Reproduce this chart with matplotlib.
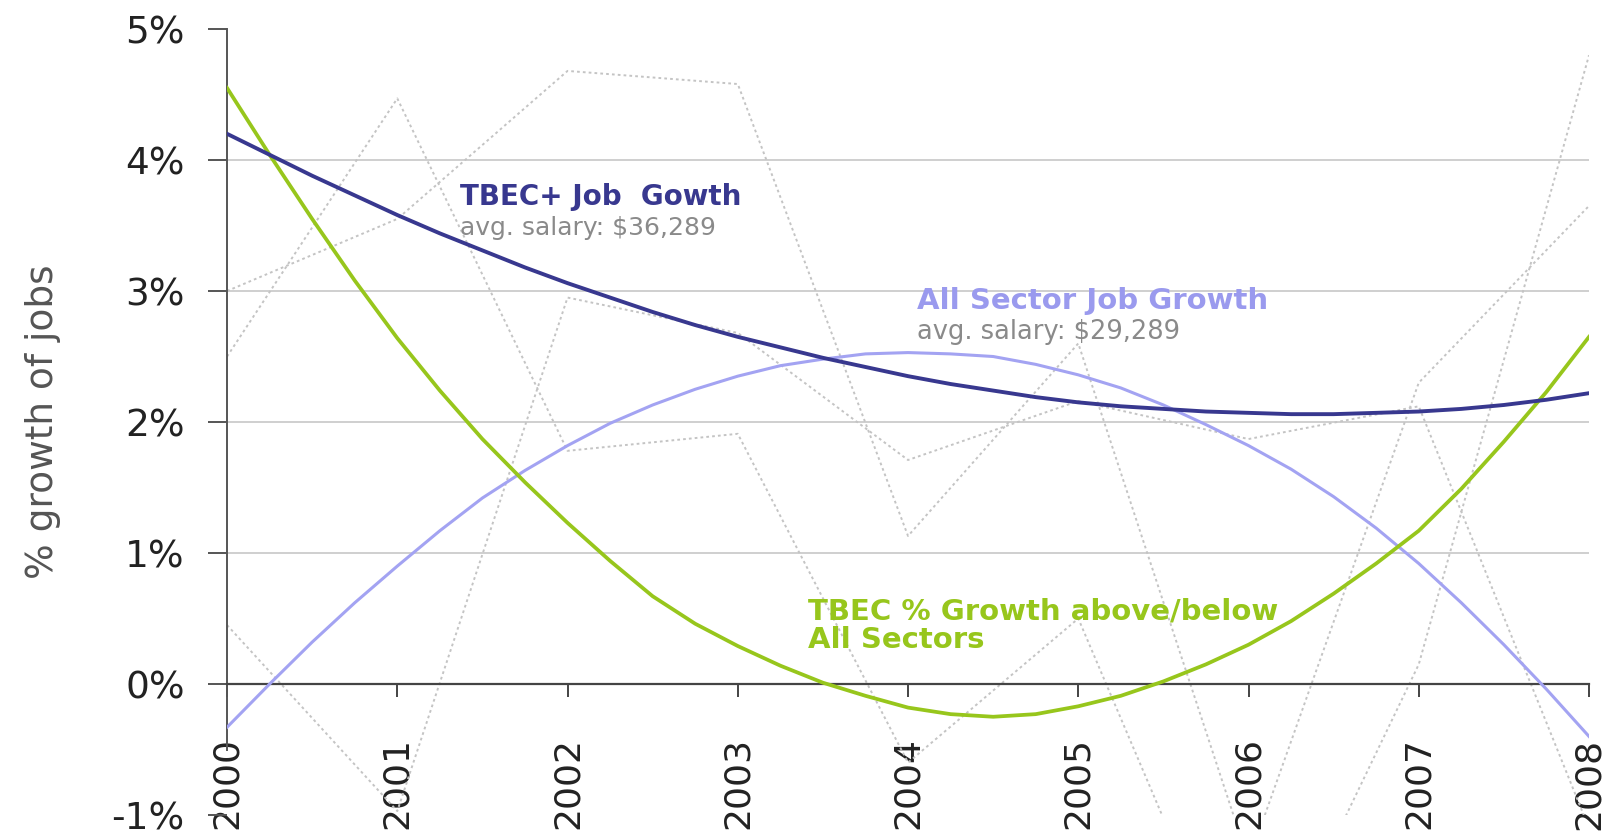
import matplotlib
matplotlib.use('Agg')
import matplotlib.pyplot as plt
from matplotlib import font_manager

plt.rcParams['font.family'] = ['DejaVu Sans']
plt.rcParams['axes.unicode_minus'] = False

# 数据：原始年度值（灰色点线）
years = [2000, 2001, 2002, 2003, 2004, 2005, 2006, 2007, 2008]
tbec_raw = [3.0, 3.55, 4.68, 4.58, 1.13, 2.6, -1.35, 2.3, 3.65]
all_raw = [0.45, -0.97, 2.95, 2.68, 1.71, 2.16, 1.87, 2.12, -1.1]
diff_raw = [2.5, 4.47, 1.78, 1.91, -0.6, 0.5, -2.55, 0.15, 4.8]

# 数据：趋势线（每季度读数）
quarter_years = [2000 + 0.25 * i for i in range(33)]
tbec_trend = [4.20, 4.04, 3.88, 3.73, 3.58, 3.44, 3.31, 3.18, 3.06, 2.95, 2.84,
              2.74, 2.65, 2.57, 2.49, 2.42, 2.35, 2.29, 2.24, 2.19, 2.15, 2.12,
              2.10, 2.08, 2.07, 2.06, 2.06, 2.07, 2.08, 2.10, 2.13, 2.17, 2.22]
all_trend = [-0.33, 0.00, 0.32, 0.62, 0.90, 1.17, 1.42, 1.63, 1.82, 1.99, 2.13,
             2.25, 2.35, 2.43, 2.48, 2.52, 2.53, 2.52, 2.50, 2.44, 2.36, 2.26,
             2.13, 1.98, 1.82, 1.64, 1.43, 1.19, 0.92, 0.62, 0.30, -0.04, -0.40]
diff_trend = [4.55, 4.04, 3.55, 3.08, 2.64, 2.24, 1.87, 1.54, 1.23, 0.94, 0.67,
              0.46, 0.29, 0.14, 0.01, -0.09, -0.18, -0.23, -0.25, -0.23, -0.17,
              -0.09, 0.02, 0.15, 0.30, 0.48, 0.69, 0.92, 1.17, 1.49, 1.85, 2.23,
              2.65]

y_ticks = [-1, 0, 1, 2, 3, 4, 5]
y_tick_labels = ['-1%', '0%', '1%', '2%', '3%', '4%', '5%']
grid_levels = [1, 2, 3, 4]

navy = '#38388f'
light_blue = '#a3a3f2'
green = '#97c61c'
dot_gray = '#c4c4c4'

# x轴刻度用窄体字（如有）
try:
    font_manager.findfont('Liberation Sans Narrow', fallback_to_default=False)
    xtick_family = ['Liberation Sans Narrow', 'DejaVu Sans']
    xtick_size = 31
except Exception:
    xtick_family = ['DejaVu Sans']
    xtick_size = 26

fig = plt.figure(figsize=(16.16, 8.36), dpi=100)
ax = fig.add_axes([0.1405, 0.0251, 0.8428, 0.9402])

# 网格线
for lvl in grid_levels:
    ax.axhline(lvl, color='#cfcfcf', linewidth=1.4, zorder=1)

# 原始数据点线
for series in (tbec_raw, all_raw, diff_raw):
    ax.plot(years, series, color=dot_gray, linestyle=(0, (1.4, 1.6)),
            linewidth=1.4, zorder=2)

# 趋势线
ax.plot(quarter_years, tbec_trend, color=navy, linewidth=2.8, zorder=4,
        solid_joinstyle='round')
ax.plot(quarter_years, all_trend, color=light_blue, linewidth=2.2, zorder=3,
        solid_joinstyle='round')
ax.plot(quarter_years, diff_trend, color=green, linewidth=2.7, zorder=3,
        solid_joinstyle='round')

# 坐标轴
ax.set_xlim(2000, 2008)
ax.set_ylim(-1, 5)
ax.spines['top'].set_visible(False)
ax.spines['right'].set_visible(False)
ax.spines['bottom'].set_position(('data', 0))
ax.spines['bottom'].set_color('#444444')
ax.spines['bottom'].set_linewidth(1.6)
ax.spines['left'].set_color('#555555')
ax.spines['left'].set_linewidth(1.4)
ax.spines['left'].set_bounds(-0.5, 5)

ax.set_xticks(years)
ax.set_xticklabels([str(y) for y in years], rotation=90, fontsize=xtick_size,
                   color='#222222', family=xtick_family)
ax.set_yticks(y_ticks)
ax.set_yticklabels(y_tick_labels, fontsize=27, color='#222222')
ax.tick_params(axis='x', direction='out', length=9.5, width=1.4,
               color='#444444', pad=29)
ax.tick_params(axis='y', direction='out', length=13.5, width=1.4,
               color='#555555', pad=17)

ax.set_ylabel('% growth of jobs', fontsize=27, color='#555555')
ax.yaxis.set_label_coords(-0.122, 0.5)

# 标注文字
ax.text(2001.37, 3.72, 'TBEC+ Job  Gowth', color=navy, fontsize=20,
        fontweight='bold', va='center', ha='left', zorder=5)
ax.text(2001.37, 3.48, 'avg. salary: $36,289', color='#8a8a8a',
        fontsize=18, va='center', ha='left', zorder=5)
ax.text(2004.05, 2.92, 'All Sector Job Growth', color='#9a9aee',
        fontsize=21, fontweight='bold', va='center', ha='left', zorder=5)
ax.text(2004.05, 2.69, 'avg. salary: $29,289', color='#8a8a8a',
        fontsize=18.5, va='center', ha='left', zorder=5)
ax.text(2003.41, 0.445, 'TBEC % Growth above/below\nAll Sectors',
        color=green, fontsize=21, fontweight='bold', va='center',
        ha='left', linespacing=1.05, zorder=5)

fig.savefig('out.png', dpi=100)
